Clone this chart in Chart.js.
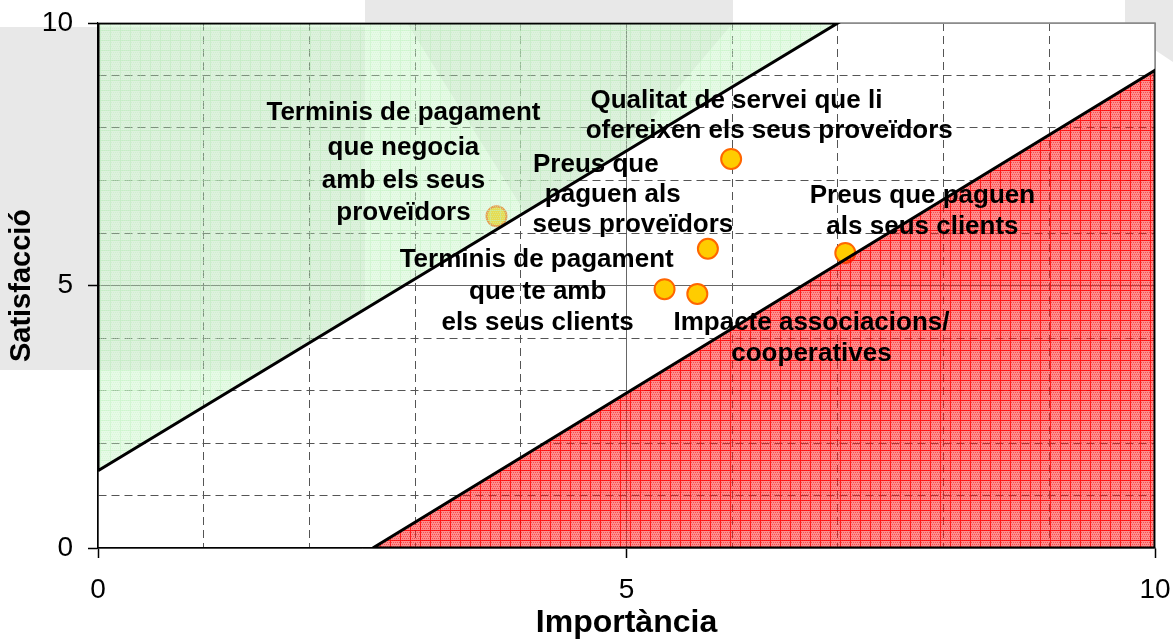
<!DOCTYPE html>
<html>
<head>
<meta charset="utf-8">
<script src="https://cdn.jsdelivr.net/npm/chart.js@4.4.1/dist/chart.umd.min.js"></script>
<style>
  html, body { margin: 0; padding: 0; background: #fff; }
</style>
</head>
<body>
<canvas id="chart" width="1173" height="642"></canvas>
<script>
const issueNames = [
  'Terminis de pagament que negocia amb els seus proveïdors',
  'Qualitat de servei que li ofereixen els seus proveïdors',
  'Preus que paguen als seus proveïdors',
  'Terminis de pagament que te amb els seus clients',
  'Impacte associacions/cooperatives',
  'Preus que paguen als seus clients',
];
const importancia = [3.77, 5.99, 5.77, 5.36, 5.67, 7.07];
const satisfaccio = [6.32, 7.41, 5.70, 4.93, 4.84, 5.62];

// zones: green (top-left) and red (bottom-right)
const greenZoneX = [0, 7, 0, 0];
const greenZoneY = [1.47, 10, 10, 1.47];
const redZoneX = [2.6, 10, 10, 2.6];
const redZoneY = [0, 9.1, 0, 0];

const tickLabels = [0, 5, 10];

// text lines of the point labels, placed in axis units
const labelLines = [
  ['Terminis de pagament', 2.89, 8.29],
  ['que negocia', 2.89, 7.63],
  ['amb els seus', 2.89, 6.99],
  ['proveïdors', 2.89, 6.38],
  ['Qualitat de servei que li', 6.04, 8.51],
  ['ofereixen els seus proveïdors', 6.35, 7.94],
  ['Preus que', 4.71, 7.30],
  ['paguen als', 4.87, 6.72],
  ['seus proveïdors', 5.06, 6.15],
  ['Preus que paguen', 7.80, 6.71],
  ['als seus clients', 7.80, 6.11],
  ['Terminis de pagament', 4.15, 5.49],
  ['que te amb', 4.16, 4.88],
  ['els seus clients', 4.16, 4.29],
  ['Impacte associacions/', 6.75, 4.29],
  ['cooperatives', 6.75, 3.70],
];

// faint grey shapes behind the chart (page background)
const watermark = [
  [[0, 27], [365, 27], [365, 370], [0, 370]],
  [[365, 0], [733, 0], [733, 23], [545, 245], [407, 23], [365, 23]],
  [[1125, 0], [1173, 0], [1173, 62], [1125, 30]],
];

const FONT = "'Liberation Sans', Arial, sans-serif";
const canvas = document.getElementById('chart');
const ctx = canvas.getContext('2d');

function makePattern(base, line, dot) {
  const c = document.createElement('canvas');
  c.width = 10;
  c.height = 10;
  const g = c.getContext('2d');
  g.fillStyle = base;
  g.fillRect(0, 0, 10, 10);
  g.fillStyle = dot;
  for (let i = 0; i < 10; i += 2) {
    for (let j = 0; j < 10; j += 2) {
      g.fillRect(i + ((j / 2) % 2), j, 1, 1);
    }
  }
  g.fillStyle = line;
  g.fillRect(0, 0, 10, 1);
  g.fillRect(0, 1, 1, 9);
  return ctx.createPattern(c, 'repeat');
}

const greenFill = makePattern('rgba(195,242,195,0.42)', 'rgba(190,242,190,0.46)', 'rgba(200,244,200,0.44)');
const redFill = makePattern('rgba(255,30,30,0.5)', 'rgba(255,0,0,0.8)', 'rgba(235,25,25,0.55)');

function tracePoly(c, pts) {
  c.beginPath();
  pts.forEach(([px, py], i) => (i ? c.lineTo(px, py) : c.moveTo(px, py)));
  c.closePath();
}

const backdrop = {
  id: 'backdrop',
  beforeDraw(chart) {
    const { ctx, chartArea: a } = chart;
    ctx.save();
    ctx.fillStyle = '#fff';
    ctx.fillRect(0, 0, chart.width, chart.height);
    ctx.fillStyle = '#e8e8e8';
    watermark.forEach(p => { tracePoly(ctx, p); ctx.fill(); });
    ctx.fillStyle = '#fff';
    ctx.fillRect(a.left, a.top, a.right - a.left, a.bottom - a.top);
    ctx.restore();
  },
  beforeDatasetsDraw(chart) {
    const { ctx, chartArea: a } = chart;
    ctx.save();
    ctx.strokeStyle = '#888';
    ctx.lineWidth = 1.5;
    ctx.beginPath();
    ctx.moveTo(a.left, a.top);
    ctx.lineTo(a.right, a.top);
    ctx.lineTo(a.right, a.bottom);
    ctx.stroke();
    ctx.restore();
  },
  afterDatasetDraw(chart, args) {
    if (args.index !== 1) return;
    const { ctx } = chart;
    const pts = args.meta.data.map(p => [p.x, p.y]);
    ctx.save();
    tracePoly(ctx, pts);
    ctx.clip();
    ctx.fillStyle = 'rgba(0,0,0,0.035)';
    watermark.forEach(p => { tracePoly(ctx, p); ctx.fill(); });
    ctx.restore();
  },
  afterDatasetsDraw(chart) {
    const { ctx, scales: { x, y } } = chart;
    ctx.save();
    ctx.font = 'bold 26px ' + FONT;
    ctx.fillStyle = '#000';
    ctx.textAlign = 'center';
    ctx.textBaseline = 'middle';
    labelLines.forEach(([t, vx, vy]) => {
      ctx.fillText(t, x.getPixelForValue(vx), y.getPixelForValue(vy));
    });
    ctx.restore();
  },
};

const gridColor = (c) => {
  const v = c.tick ? c.tick.value : null;
  if (v === 5) return '#666';
  if (v === 0 || v === 10) return '#999';
  return '#555';
};
const gridDash = (c) => (c.tick && c.tick.value % 5 !== 0 ? [8, 5] : []);
const tickMark = (c) => (c.tick && tickLabels.includes(c.tick.value) ? '#000' : 'rgba(0,0,0,0)');

function axis(title, titleSize, pad) {
  return {
    type: 'linear',
    min: 0,
    max: 10,
    ticks: {
      stepSize: 1,
      autoSkip: false,
      maxRotation: 0,
      color: '#000',
      font: { size: 28, family: FONT },
      padding: 15,
      callback: (v) => (tickLabels.includes(v) ? String(v) : ''),
    },
    grid: {
      color: gridColor,
      lineWidth: 1,
      tickLength: 10,
      tickColor: tickMark,
      tickWidth: 1.5,
    },
    border: { color: '#000', width: 1.5, dash: gridDash },
    title: {
      display: true,
      text: title,
      color: '#000',
      font: { size: titleSize, weight: 'bold', family: FONT },
      padding: { top: pad, bottom: 0 },
    },
  };
}

// fixed axis sizes so the plot sits where the original one does
const xAxis = axis('Importància', 32, 0);
xAxis.afterFit = (s) => { s.height = 94; s.paddingLeft = 0; s.paddingRight = 0; };
const yAxis = axis('Satisfacció', 29, 5);
yAxis.afterFit = (s) => { s.width = 98; s.paddingTop = 0; s.paddingBottom = 0; };

new Chart(ctx, {
  type: 'scatter',
  data: {
    datasets: [
      {
        type: 'line',
        label: 'Zona vermella',
        data: redZoneX.map((x, i) => ({ x, y: redZoneY[i] })),
        fill: 'shape',
        backgroundColor: redFill,
        borderColor: '#000',
        borderWidth: 3,
        pointRadius: 0,
        tension: 0,
        borderJoinStyle: 'miter',
      },
      {
        type: 'line',
        label: 'Zona verda',
        data: greenZoneX.map((x, i) => ({ x, y: greenZoneY[i] })),
        fill: 'shape',
        backgroundColor: greenFill,
        borderColor: '#000',
        borderWidth: 3,
        pointRadius: 0,
        tension: 0,
        borderJoinStyle: 'miter',
      },
      {
        label: 'Factors',
        data: importancia.map((x, i) => ({ x, y: satisfaccio[i], name: issueNames[i] })),
        pointRadius: 10,
        pointHoverRadius: 10,
        backgroundColor: '#ffcc00',
        borderColor: '#ff6600',
        borderWidth: 2,
      },
    ],
  },
  options: {
    responsive: false,
    animation: false,
    layout: { padding: { left: 0, right: 18, top: 23, bottom: 0 } },
    plugins: {
      legend: { display: false },
      tooltip: {
        callbacks: { label: (c) => c.raw.name ? c.raw.name + ': (' + c.raw.x + ', ' + c.raw.y + ')' : '' },
      },
    },
    scales: { x: xAxis, y: yAxis },
  },
  plugins: [backdrop],
});
</script>
</body>
</html>
